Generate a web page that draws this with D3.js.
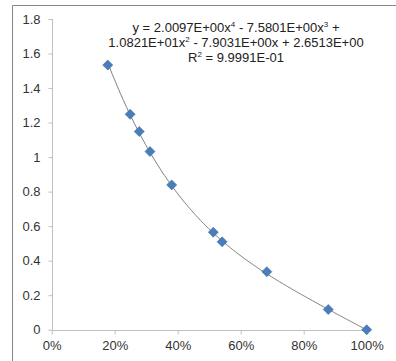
<!DOCTYPE html>
<html>
<head>
<meta charset="utf-8">
<script src="https://cdn.jsdelivr.net/npm/d3@7"></script>
<style>
  html, body { margin: 0; padding: 0; background: #fff; overflow: hidden; }
  svg { display: block; font-family: "Liberation Sans", Arial, sans-serif; }
</style>
</head>
<body>
<div id="chart"></div>
<script>
//////////////////////////////////////////////////////////////////////////////
// Data

var xValues = [0.178, 0.249, 0.278, 0.312, 0.381, 0.513, 0.541, 0.683, 0.878, 1.0];
var yValues = [1.533, 1.248, 1.148, 1.032, 0.839, 0.565, 0.509, 0.336, 0.117, 0.0];

// trendline coefficients, highest power first (as printed on the chart)
var coeffs = [2.0097, -7.5801, 10.821, -7.9031, 2.6513];

var xTicks = [0, 0.2, 0.4, 0.6, 0.8, 1.0];
var yTicks = [0, 0.2, 0.4, 0.6, 0.8, 1, 1.2, 1.4, 1.6, 1.8];

var eqLines = [
    ["y = 2.0097E+00x", "4", " - 7.5801E+00x", "3", " +"],
    ["1.0821E+01x", "2", " - 7.9031E+00x + 2.6513E+00"],
    ["R", "2", " = 9.9991E-01"]
];

//////////////////////////////////////////////////////////////////////////////

var width = 396, height = 361;

var xScale = d3.scaleLinear().domain([0, 1]).  range([51.7, 366.7]);
var yScale = d3.scaleLinear().domain([0, 1.8]).range([329.7, 19]);

var svg = d3.select("#chart")
    .append("svg")
    .attr("width", width)
    .attr("height", height);

// chart area border: only top and left edges are inside the picture
svg.append("path")
    .attr("d", "M12.5," + height + "V5.5H" + width)
    .attr("fill", "none")
    .attr("stroke", "#868686")
    .attr("stroke-width", 1);

// axes
var yAxis = svg.append("g")
    .attr("transform", "translate(" + Math.round(xScale(0)) + ".5,0)")
    .call(d3.axisLeft(yScale).tickValues(yTicks).tickSize(4).tickPadding(8)
          .tickFormat(function(d) { return d3.format("")(+d.toFixed(1)); }));

var xAxis = svg.append("g")
    .attr("transform", "translate(0," + Math.round(yScale(0)) + ".5)")
    .call(d3.axisBottom(xScale).tickValues(xTicks).tickSize(4).tickPadding(6)
          .tickFormat(d3.format(".0%")));

[xAxis, yAxis].forEach(function(ax) {
    ax.select(".domain").attr("stroke", "#bfbfbf");
    ax.selectAll(".tick line").attr("stroke", "#bfbfbf");
    ax.selectAll(".tick text")
        .attr("fill", "#333")
        .style("font-size", "13px")
        .style("font-family", "'Liberation Sans', Arial, sans-serif");
});
xAxis.select(".domain").attr("d", "M" + xScale(0) + ",0H" + (xScale(1) + 1));
yAxis.select(".domain").attr("d", "M0," + yScale(1.8) + "V" + yScale(0));

// polynomial trendline over the data range
function poly(x) {
    return coeffs.reduce(function(acc, c) { return acc * x + c; }, 0);
}
var xs = d3.range(xValues[0], 1.0001, 0.005);
var line = d3.line()
    .x(function(x) { return xScale(x); })
    .y(function(x) { return yScale(poly(x)); })
    .curve(d3.curveMonotoneX);

svg.append("path")
    .datum(xs)
    .attr("d", line)
    .attr("fill", "none")
    .attr("stroke", "#7f7f7f")
    .attr("stroke-width", 1);

// markers
var points = xValues.map(function(x, i) { return { x: x, y: yValues[i] }; });
svg.append("g")
    .selectAll("path")
    .data(points)
    .enter()
    .append("path")
    .attr("transform", function(d) {
        return "translate(" + xScale(d.x) + "," + yScale(d.y) + ")";
    })
    .attr("d", "M0,-5L5,0L0,5L-5,0Z")
    .attr("fill", "#4a7ebb")
    .attr("stroke", "#3d6aa3")
    .attr("stroke-width", 0.6);

// trendline label
var eq = svg.append("text")
    .attr("text-anchor", "middle")
    .attr("fill", "#222")
    .style("font-size", "13px");

eqLines.forEach(function(parts, li) {
    var t = eq.append("tspan")
        .attr("x", 236)
        .attr("y", 32 + li * 15);
    parts.forEach(function(p, pi) {
        var s = (pi % 2 === 1);
        var sp = t.append("tspan").text(p);
        if (s) sp.attr("dy", -5).style("font-size", "8px");
        else if (pi > 0) sp.attr("dy", 5);
    });
});
</script>
</body>
</html>
